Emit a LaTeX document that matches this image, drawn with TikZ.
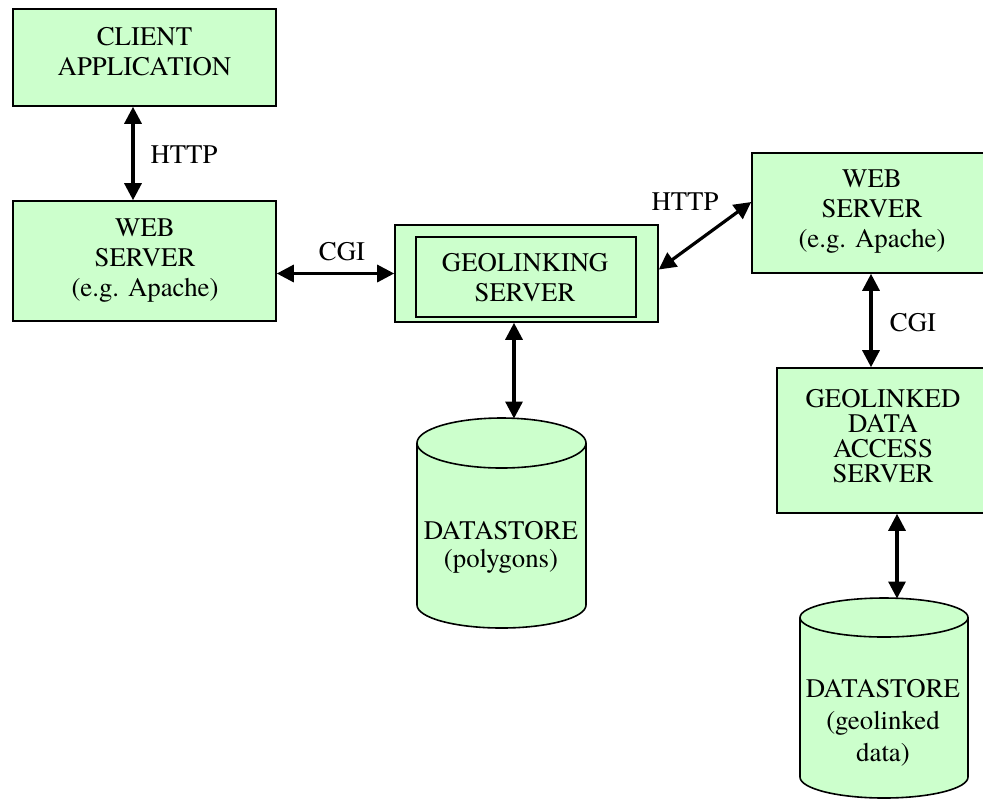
\documentclass[tikz,border=0pt]{standalone}
\usepackage{fontspec}
\IfFontExistsTF{texgyretermes-regular.otf}
  {\newfontfamily\timesfont{texgyretermes-regular.otf}}
  {\newfontfamily\timesfont{Liberation Serif}}
\usetikzlibrary{arrows.meta,calc}
\definecolor{boxgreen}{HTML}{CCFFCC}
\begin{document}
\begin{tikzpicture}[x=0.5pt,y=-0.5pt,
  box/.style={draw=black,fill=boxgreen,line width=0.8pt,inner sep=0pt},
  txt/.style={align=center,inner sep=0pt,font=\timesfont\fontsize{13.4}{15}\selectfont},
  cyl/.style={draw=black,fill=boxgreen,line width=0.8pt},
  conn/.style={line width=1.6pt,{Triangle[length=8.5pt,width=8.5pt]}-{Triangle[length=8.5pt,width=8.5pt]}},
  lbl/.style={inner sep=0pt,font=\timesfont\fontsize{13.4}{15}\selectfont}]
\useasboundingbox (0,0) rectangle (983,799);
\clip (0,0) rectangle (983,799);

% boxes
\node[box,minimum width=131.5pt,minimum height=48.5pt] (client) at (144.5,57.5) {};
\node[txt] (clienttxt) at (144.5,52) {CLIENT\\APPLICATION};

\node[box,minimum width=131.5pt,minimum height=60pt] (web1) at (144.5,261) {};
\node[txt] (web1txt) at (145,261) {WEB\\SERVER\\(e.g. Apache)};

\node[box,minimum width=131.5pt,minimum height=48.5pt] (geoout) at (526.5,273.5) {};
\node[box,minimum width=110pt,minimum height=40pt] (geoin) at (526,277) {};
\node[txt] (geotxt) at (525,278) {GEOLINKING\\SERVER};

\node[box,minimum width=120pt,minimum height=60pt] (web2) at (872,213) {};
\node[txt] (web2txt) at (872,212) {WEB\\SERVER\\(e.g. Apache)};

\node[box,minimum width=106pt,minimum height=72.5pt] (gla) at (883,440.5) {};
\node[txt,font=\timesfont\fontsize{13.4}{12.6}\selectfont] (glatxt) at (883,436) {GEOLINKED\\DATA\\ACCESS\\SERVER};

% cylinder 1
\filldraw[cyl] (417,443) -- (417,605)
  arc[start angle=180,end angle=360,x radius=42.25pt,y radius=11.5pt]
  -- (586,443)
  arc[start angle=0,end angle=180,x radius=42.25pt,y radius=12.5pt] -- cycle;
\draw[cyl,fill=none] (417,443) arc[start angle=180,end angle=360,x radius=42.25pt,y radius=12.5pt];
\coordinate (cyl1top) at (514,418.5);
\node[txt,font=\timesfont\fontsize{13.4}{14}\selectfont] (ds1) at (501,547) {DATASTORE\\(polygons)};

% cylinder 2
\filldraw[cyl] (800,617.5) -- (800,777)
  arc[start angle=180,end angle=360,x radius=42pt,y radius=10.5pt]
  -- (968,617.5)
  arc[start angle=0,end angle=180,x radius=42pt,y radius=9.75pt] -- cycle;
\draw[cyl,fill=none] (800,617.5) arc[start angle=180,end angle=360,x radius=42pt,y radius=9.75pt];
\coordinate (cyl2top) at (897,598.5);
\node[txt,font=\timesfont\fontsize{13.4}{16}\selectfont] (ds2) at (883,723) {DATASTORE\\(geolinked\\data)};

% connectors
\coordinate (w2s) at ($(web2.south)+(-1,0)$);
\draw[conn] ($(client.south)+(-11.5,0)$) -- ($(web1.north)+(-11.5,0)$);
\draw[conn] (web1.east |- geoout.west) -- (geoout.west);
\draw[conn] ($(geoout.east)+(0,-4)$) -- ($(web2.west)+(0,-11)$);
\draw[conn] (w2s) -- (w2s |- gla.north);
\draw[conn] ($(geoout.south)+(-12.5,0)$) -- (cyl1top);
\draw[conn] ($(gla.south)+(14,0)$) -- (cyl2top);

% labels
\node[lbl] (http1) at (184,155) {HTTP};
\node[lbl] (cgi1) at (342,252) {CGI};
\node[lbl] (http2) at (685,202) {HTTP};
\node[lbl] (cgi2) at (913,323) {CGI};
\end{tikzpicture}
\end{document}
